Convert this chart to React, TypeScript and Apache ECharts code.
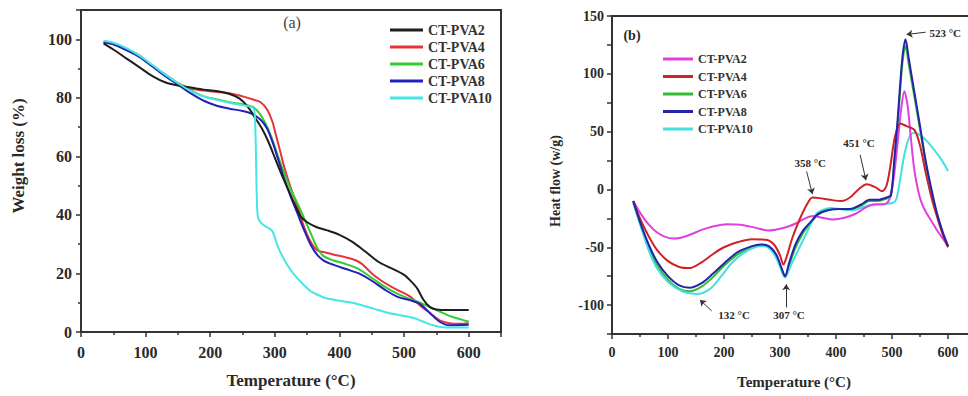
import React, { useEffect, useRef } from 'react';
import * as echarts from 'echarts';

const FONT = "'Liberation Serif', 'Times New Roman', serif";
const TXT = '#2a2a2a';
const AXIS = '#333333';

const sampleNames = ['CT-PVA2', 'CT-PVA4', 'CT-PVA6', 'CT-PVA8', 'CT-PVA10'];

// ---------- (a) TGA: [temperature °C, weight %] ----------
const tgaPVA2 = [[35,98.5],[50,96.5],[70,93.5],[90,90.5],[110,87.5],[130,85.3],[150,84.2],[170,83.5],[190,82.8],[210,82.3],[230,81.3],[245,79.8],[258,77],[270,73],[280,69.5],[290,65],[300,59.5],[310,54],[320,49],[330,44],[340,39.5],[350,37.5],[365,35.8],[380,34.8],[400,33.2],[420,30.8],[440,27.5],[460,24],[480,21.8],[500,19.5],[510,17.5],[520,15],[530,11],[540,8.5],[550,7.7],[570,7.5],[600,7.5]];
const tgaPVA4 = [[35,99],[50,98.3],[70,96.5],[90,94.5],[110,91],[130,88],[150,85],[170,83.2],[190,82.5],[210,82],[230,81.6],[250,80.5],[265,79.5],[278,78.5],[288,76],[296,72],[302,67],[308,62],[315,56],[325,49],[335,43],[345,36],[355,31],[365,28],[375,27.3],[390,26.5],[410,25.5],[425,24.5],[435,23.2],[450,20],[465,17.5],[480,15.5],[495,13.8],[510,12],[525,9],[540,6.5],[555,4],[570,3],[585,2.8],[600,3]];
const tgaPVA6 = [[35,99],[50,98.5],[70,96.8],[90,94.5],[110,91],[130,88],[150,85],[170,82.5],[190,80.5],[210,79.5],[230,78.5],[250,77.8],[265,77],[275,75],[285,71.5],[295,66.5],[305,60],[315,54],[325,48.5],[335,44],[345,39],[355,34],[365,29],[375,26],[390,24.5],[410,23.2],[430,21.5],[450,18.5],[470,15.5],[490,13],[510,11.2],[525,10],[540,8.5],[555,7],[570,5.5],[585,4.5],[600,3.5]];
const tgaPVA8 = [[35,99],[50,98.3],[70,96.3],[90,94],[110,90.8],[130,87.5],[150,84.5],[170,81.5],[190,79],[210,77.3],[230,76.3],[250,75.5],[265,74.5],[278,72.5],[288,69.5],[297,64.5],[305,59],[315,52],[325,46],[335,40.5],[345,35],[355,30],[365,26.5],[375,24.5],[390,23],[410,21.5],[430,20],[450,17.5],[470,14.5],[490,12],[510,10.8],[525,9.5],[540,6.5],[555,3.5],[570,2.3],[600,2.5]];
const tgaPVA10 = [[35,99.5],[50,98.8],[70,97],[90,94.5],[110,91.3],[130,88],[150,85],[170,82.3],[190,80.5],[210,79.3],[230,78.3],[250,77.5],[262,77],[268,76],[270,68],[271,58],[272,47],[274,39],[280,37],[288,35.8],[296,34.5],[305,29],[315,24.5],[325,21],[335,18.3],[345,16],[355,14],[365,12.8],[380,11.5],[400,10.7],[420,10],[440,8.8],[460,7.5],[480,6.3],[500,5.5],[515,4.8],[530,3.5],[545,2.3],[560,1.6],[580,1.5],[600,1.5]];
const tgaColors = ['#1e1e1e', '#e8323c', '#33cc33', '#2222bb', '#44e6e6'];

// ---------- (b) DSC: [temperature °C, heat flow w/g] ----------
const dscPVA2 = [[38,-10],[50,-20],[65,-30],[80,-37],[95,-41],[110,-42.5],[125,-41.5],[140,-39],[160,-35],[180,-32],[205,-30],[230,-30.5],[255,-33],[280,-35.5],[300,-34],[315,-32],[330,-29],[345,-25],[360,-23],[375,-24.5],[395,-26],[415,-24.5],[435,-21],[455,-15],[470,-13],[485,-13],[495,-9],[503,10],[510,40],[516,68],[522,85],[528,72],[533,48],[539,20],[545,3],[551,-9],[560,-19],[570,-27],[580,-35],[590,-42],[600,-49]];
const dscPVA4 = [[38,-10],[50,-25],[65,-40],[80,-52],[100,-62],[120,-67],[139,-68],[160,-63],[180,-56],[200,-50],[225,-45.5],[250,-43],[275,-43.5],[290,-48],[300,-57],[306,-65],[312,-58],[322,-42],[335,-26],[348,-13],[358,-7],[370,-7.5],[390,-9],[410,-10],[425,-7],[440,0],[455,4.5],[470,2],[482,-1.5],[490,3],[497,20],[505,45],[515,57],[525,55],[540,51.5],[550,38],[560,15],[570,-6],[580,-23],[590,-38],[600,-50]];
const dscPVA6 = [[38,-11],[50,-29],[65,-49],[80,-65],[100,-78],[120,-86],[139,-88],[160,-84],[180,-76],[200,-66],[225,-56],[250,-50],[265,-48.5],[280,-50],[293,-57],[302,-68],[309,-76],[316,-66],[328,-50],[342,-37],[355,-29],[367,-22],[385,-18],[405,-17],[425,-17.5],[445,-14],[460,-10],[475,-10],[490,-8],[498,-6],[504,22],[510,55],[516,95],[520,115],[524,124],[530,108],[540,80],[550,52],[560,23],[570,-1],[580,-21],[590,-37],[600,-49]];
const dscPVA8 = [[38,-10],[50,-28],[65,-47],[80,-62],[100,-75],[120,-83],[139,-85],[160,-81],[180,-73],[200,-64],[225,-54],[250,-49],[265,-47.5],[280,-49],[293,-56],[302,-67],[309,-75],[316,-64],[328,-47],[342,-35],[355,-28],[367,-21.5],[385,-18],[405,-17],[425,-17],[445,-13],[460,-9],[475,-9],[490,-7],[498,-5],[504,25],[510,60],[516,100],[520,120],[524,130],[530,113],[540,84],[550,55],[560,25],[570,1],[580,-20],[590,-36],[600,-49]];
const dscPVA10 = [[38,-12],[50,-30],[65,-52],[80,-68],[100,-80],[125,-88],[151,-90.5],[175,-86],[195,-75],[215,-63],[235,-55],[255,-50],[270,-49],[285,-53],[297,-63],[304,-72],[309,-76],[320,-65],[336,-49],[350,-35],[365,-21],[375,-18],[390,-16],[410,-17],[430,-18],[450,-15],[465,-13],[485,-12.5],[502,-11.5],[508,-8],[515,10],[522,30],[530,44],[539,49],[550,47],[562,42],[575,34.5],[588,26],[600,16]];
const dscColors = ['#e040e0', '#cc2228', '#33bb33', '#2424aa', '#44e0e0'];

// annotation texts [T, H, label] and arrows [T1, H1, T2, H2]
const dscLabels: [number, number, string][] = [
  [595, 135, '523 °C'], [441, 40.5, '451 °C'], [354, 23, '358 °C'], [218, -108.6, '132 °C'], [316, -108.6, '307 °C'],
];
const dscArrows = [
  [560, 136, 526, 134], [443, 30, 453.5, 8], [347.5, 15.5, 358, -4], [178, -105, 157, -95.5], [311, -102, 311, -82],
];

const font = (size: number, weight: string = 'bold') => ({ fontFamily: FONT, fontSize: size, fontWeight: weight as any, color: TXT });

function axisCommon(labelSize: number, margin: number) {
  return {
    axisLine: { show: true, onZero: false, lineStyle: { color: AXIS, width: 2 } },
    axisTick: { show: true, inside: false, length: 5, lineStyle: { color: AXIS, width: 1.5 } },
    minorTick: { show: true, splitNumber: 2, length: 3, lineStyle: { color: AXIS, width: 1.5 } },
    splitLine: { show: false },
    minorSplitLine: { show: false },
    axisLabel: { ...font(labelSize), margin, showMaxLabel: false },
  };
}

export default function App() {
  const refA = useRef<HTMLDivElement>(null);
  const refB = useRef<HTMLDivElement>(null);

  useEffect(() => {
    const cA = echarts.init(refA.current!, null, { renderer: 'svg' });
    const cB = echarts.init(refB.current!, null, { renderer: 'svg' });

    const tgaData = [tgaPVA2, tgaPVA4, tgaPVA6, tgaPVA8, tgaPVA10];
    const orderA = [1, 2, 3, 0, 4];
    cA.setOption({
      animation: false,
      grid: { left: 81, top: 10, width: 420, height: 322, show: true, borderColor: AXIS, borderWidth: 2, outerBoundsMode: 'none', containLabel: false },
      legend: {
        data: sampleNames, orient: 'vertical', left: 385, top: 18, itemWidth: 33, itemHeight: 3, itemGap: 3,
        icon: 'rect', textStyle: { ...font(14), color: '#333' }, selectedMode: false,
      },
      xAxis: {
        type: 'value', min: 0, max: 650, interval: 100,
        name: 'Temperature (°C)', nameLocation: 'middle', nameGap: 40, nameTextStyle: font(17),
        ...axisCommon(16, 12),
      },
      yAxis: {
        type: 'value', min: 0, max: 110, interval: 20,
        name: 'Weight loss (%)', nameLocation: 'middle', nameGap: 54, nameRotate: 90,
        nameTextStyle: { ...font(17), padding: [0, 0, 0, 30] },
        ...axisCommon(16, 9),
      },
      graphic: [
        { type: 'text', x: 292, y: 22, style: { text: '(a)', fill: '#444', fontFamily: FONT, fontSize: 16, align: 'center', verticalAlign: 'middle' } },
      ],
      series: orderA.map((i) => ({
        name: sampleNames[i], type: 'line', data: tgaData[i], showSymbol: false, symbol: 'none',
        smooth: 0.3, lineStyle: { color: tgaColors[i], width: 2 }, itemStyle: { color: tgaColors[i] },
      })),
    });

    const dscData = [dscPVA2, dscPVA4, dscPVA6, dscPVA8, dscPVA10];
    const orderB = [2, 4, 0, 1, 3];
    cB.setOption({
      animation: false,
      grid: { left: 107, top: 16, width: 364, height: 318, show: true, borderColor: AXIS, borderWidth: 2, outerBoundsMode: 'none', containLabel: false },
      legend: {
        data: sampleNames, orient: 'vertical', left: 153, top: 48, itemWidth: 30, itemHeight: 3, itemGap: 5.5,
        icon: 'rect', textStyle: { ...font(12), color: '#333' }, selectedMode: false,
      },
      xAxis: {
        type: 'value', min: 0, max: 650, interval: 100,
        name: 'Temperature (°C)', nameLocation: 'middle', nameGap: 40, nameTextStyle: font(15),
        ...axisCommon(14, 11),
      },
      yAxis: {
        type: 'value', min: -125, max: 150, interval: 25,
        name: 'Heat flow (w/g)', nameLocation: 'middle', nameGap: 50, nameRotate: 90,
        nameTextStyle: { ...font(14), padding: [0, 12, 0, 0] },
        ...axisCommon(14, 8),
        minorTick: { show: false },
        axisLabel: { ...font(14), margin: 8, formatter: (v: number) => (v % 50 === 0 ? String(v) : '') },
      },
      graphic: [
        { type: 'text', x: 127, y: 35, style: { text: '(b)', fill: TXT, fontFamily: FONT, fontWeight: 'bold', fontSize: 14, align: 'center', verticalAlign: 'middle' } },
      ],
      series: orderB.map((i, k) => ({
        name: sampleNames[i], type: 'line', data: dscData[i], showSymbol: false, symbol: 'none',
        smooth: 0.3, lineStyle: { color: dscColors[i], width: 2 }, itemStyle: { color: dscColors[i] },
        ...(k === orderB.length - 1
          ? {
              markLine: {
                silent: true, symbol: ['none', 'arrow'], symbolSize: 6, animation: false,
                label: { show: false },
                lineStyle: { color: '#333', width: 1, type: 'solid' },
                data: dscArrows.map((a) => [{ coord: [a[0], a[1]] }, { coord: [a[2], a[3]] }]),
              },
              markPoint: {
                silent: true, symbol: 'circle', symbolSize: 1, animation: false,
                itemStyle: { color: 'rgba(0,0,0,0)' },
                label: { show: true, position: 'inside', formatter: '{b}', ...font(11) },
                data: dscLabels.map((l) => ({ name: l[2], coord: [l[0], l[1]] })),
              },
            }
          : {}),
      })),
    });

    return () => {
      cA.dispose();
      cB.dispose();
    };
  }, []);

  return (
    <div style={{ position: 'absolute', left: 0, top: 0, width: 968, height: 396, background: '#fff', overflow: 'hidden' }}>
      <div ref={refA} style={{ position: 'absolute', left: 0, top: 0, width: 505, height: 396 }} />
      <div ref={refB} style={{ position: 'absolute', left: 505, top: 0, width: 463, height: 396 }} />
    </div>
  );
}
